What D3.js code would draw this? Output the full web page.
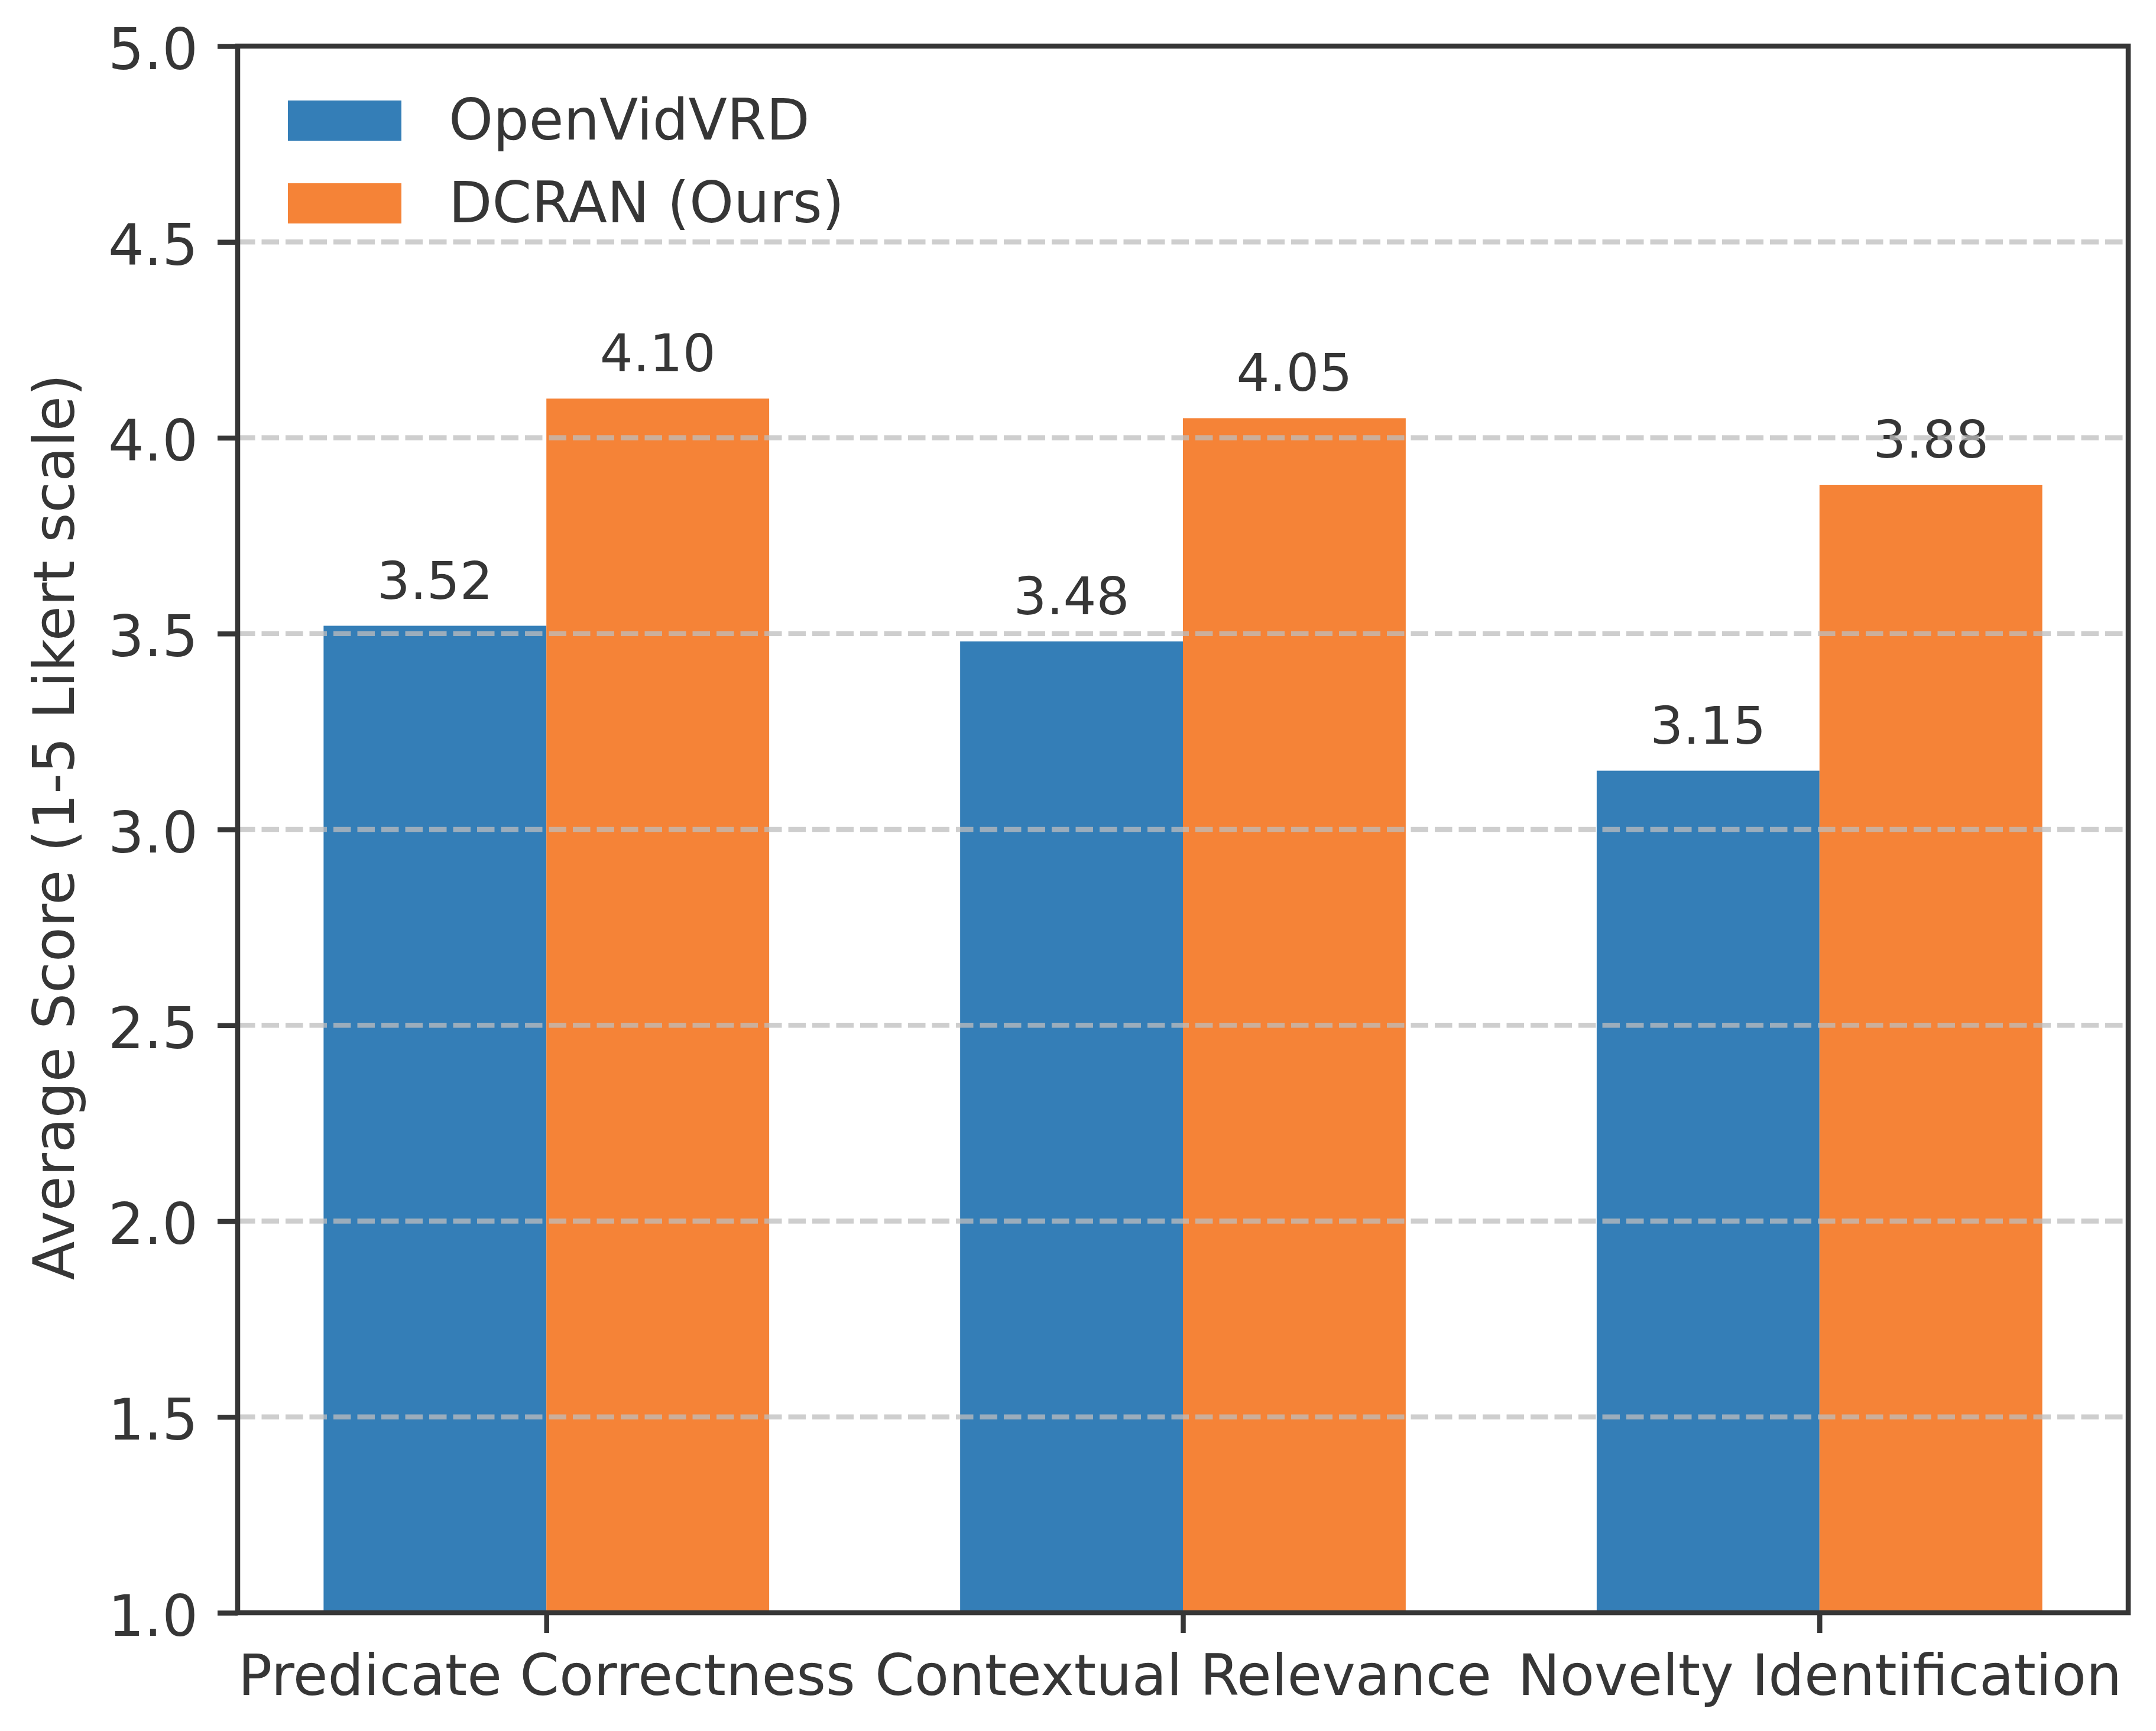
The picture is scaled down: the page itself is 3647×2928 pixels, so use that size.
<!DOCTYPE html>
<html>
<head>
<meta charset="utf-8">
<script src="https://cdn.jsdelivr.net/npm/d3@7"></script>
<style>
  body { margin: 0; background: #fff; }
  text { font-family: "DejaVu Sans", sans-serif; fill: #363636; }
</style>
</head>
<body>
<div id="chart"></div>
<script>
// data
const categories = ["Predicate Correctness", "Contextual Relevance", "Novelty Identification"];
const seriesNames = ["OpenVidVRD", "DCRAN (Ours)"];
const openVidVRD = [3.52, 3.48, 3.15];
const dcran = [4.10, 4.05, 3.88];
const yTicks = [1.0, 1.5, 2.0, 2.5, 3.0, 3.5, 4.0, 4.5, 5.0];
const colors = ["#347eb7", "#f58337"];

const W = 3647, H = 2928;
const margin = {top: 78, right: 47, bottom: 200, left: 402};
const width = W - margin.left - margin.right,
      height = H - margin.top - margin.bottom;
const barW = 0.35;

const svg = d3.select("#chart")
    .append("svg")
        .attr("width", W)
        .attr("height", H)
    .append("g")
        .attr("transform", `translate(${margin.left}, ${margin.top})`);

const x = d3.scaleLinear()
    .domain([-0.485, 2.485])
    .range([0, width]);

const y = d3.scaleLinear()
    .domain([1, 5])
    .range([height, 0]);

// bars
const series = [openVidVRD, dcran];
series.forEach((vals, s) => {
    svg.selectAll(".bar" + s)
        .data(vals)
        .enter()
        .append("rect")
        .attr("class", "bar" + s)
        .attr("x", (d, i) => x(i - barW + s * barW))
        .attr("width", x(barW) - x(0))
        .attr("y", d => y(d))
        .attr("height", d => y(1) - y(d))
        .attr("fill", colors[s]);

    // value labels
    svg.selectAll(".lab" + s)
        .data(vals)
        .enter()
        .append("text")
        .attr("class", "lab" + s)
        .attr("x", (d, i) => x(i - barW / 2 + s * barW))
        .attr("y", d => y(d) - 46)
        .attr("text-anchor", "middle")
        .style("font-size", "88px")
        .text(d => d.toFixed(2));
});

// dashed grid drawn above bars
svg.selectAll(".grid")
    .data(yTicks.filter(t => t > 1 && t < 5))
    .enter()
    .append("line")
    .attr("class", "grid")
    .attr("x1", 0)
    .attr("x2", width)
    .attr("y1", d => y(d))
    .attr("y2", d => y(d))
    .attr("stroke", "#bebebe")
    .attr("stroke-opacity", 0.75)
    .attr("stroke-width", 8.5)
    .attr("stroke-dasharray", "29.5 11");

// axes
const yAxis = svg.append("g")
    .call(d3.axisLeft(y)
        .tickValues(yTicks)
        .tickFormat(d3.format(".1f"))
        .tickSizeInner(34)
        .tickSizeOuter(0)
        .tickPadding(33));
yAxis.select(".domain").remove();
yAxis.selectAll(".tick line").attr("stroke", "#363636").attr("stroke-width", 8.5);
yAxis.selectAll(".tick text")
    .attr("dy", "0.40em")
    .style("font-size", "95.5px")
    .attr("fill", "#363636");

const xAxis = svg.append("g")
    .attr("transform", `translate(0, ${height})`)
    .call(d3.axisBottom(x)
        .tickValues([0, 1, 2])
        .tickFormat(i => categories[i])
        .tickSizeInner(34)
        .tickSizeOuter(0)
        .tickPadding(37));
xAxis.select(".domain").remove();
xAxis.selectAll(".tick line").attr("stroke", "#363636").attr("stroke-width", 8.5);
xAxis.selectAll(".tick text")
    .style("font-size", "95.5px")
    .attr("fill", "#363636");

// frame
svg.append("rect")
    .attr("x", 0)
    .attr("y", 0)
    .attr("width", width)
    .attr("height", height)
    .attr("fill", "none")
    .attr("stroke", "#363636")
    .attr("stroke-width", 8.5);

// y label
svg.append("text")
    .attr("transform", `translate(${125 - margin.left}, ${height / 2 - 4}) rotate(-90)`)
    .attr("text-anchor", "middle")
    .style("font-size", "96px")
    .text("Average Score (1-5 Likert scale)");

// legend
const legend = svg.append("g")
    .attr("transform", `translate(${487 - margin.left}, ${170 - margin.top})`);
seriesNames.forEach((name, s) => {
    legend.append("rect")
        .attr("x", 0)
        .attr("y", s * 140)
        .attr("width", 192)
        .attr("height", 68)
        .attr("fill", colors[s]);
    legend.append("text")
        .attr("x", 272)
        .attr("y", s * 140 + 66)
        .style("font-size", "95.5px")
        .text(name);
});
</script>
</body>
</html>
